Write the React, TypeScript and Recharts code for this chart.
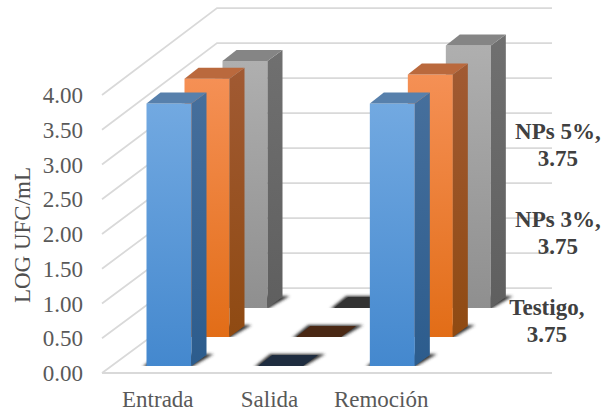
import { Bar, CartesianGrid, ComposedChart, Label, LabelList, XAxis, YAxis } from 'recharts';

const categories = ['Entrada', 'Salida', 'Remoción'];
const testigo = [3.75, 0, 3.75];
const nps3 = [3.69, 0, 3.75];
const nps5 = [3.53, 0, 3.75];
const yTicks = [0, 0.5, 1, 1.5, 2, 2.5, 3, 3.5, 4];

const data = categories.map((name, i) => ({ name, testigo: testigo[i], nps3: nps3[i], nps5: nps5[i] }));

const serif = '"Liberation Serif", "Times New Roman", serif';
const DX = 15;
const DY = 11;

const makeBar = (id: string, topFace: string, flat: string) => (props: any) => {
  const { x, y, width, height } = props;
  const base = y + height;
  const right = x + width;
  return (
    <g>
      <polygon
        points={`${x - 4},${base + 1} ${right},${base + 1} ${right + 22},${base - 12} ${x + 12},${base - 12}`}
        fill="#333"
        filter="url(#baseShadow)"
      />
      {height > 1 && <rect x={x} y={y} width={width} height={height} fill={`url(#${id}Front)`} />}
      {height > 1 && (
        <polygon
          points={`${right},${y} ${right + DX},${y - DY} ${right + DX},${base - DY} ${right},${base}`}
          fill={`url(#${id}Side)`}
        />
      )}
      <polygon
        points={`${x},${y} ${x + DX - 1},${y - DY} ${right + DX},${y - DY} ${right},${y}`}
        fill={height > 1 ? topFace : flat}
      />
    </g>
  );
};

const makeLabel = (title: string, dx: number, dy: number) => (props: any) => {
  const { x, y, index, value } = props;
  if (index !== 2) return null;
  return (
    <text textAnchor="middle" fontFamily={serif} fontSize={23} fontWeight="bold" fill="#404040">
      <tspan x={x + dx} y={y + dy}>{title},</tspan>
      <tspan x={x + dx} y={y + dy + 27}>{Number(value).toFixed(2)}</tspan>
    </text>
  );
};

// back wall + left wall lines, one polyline per tick of the back axis
const wallLine = (props: any) => {
  const { x1, x2, y1, key } = props;
  if (y1 > 300) return <g key={key} />;
  const frontY = 373 - (288 - y1) * 0.993;
  return (
    <polyline
      key={key}
      points={`${x1},${frontY} ${x1 + 115},${y1} ${x2},${y1}`}
      fill="none"
      stroke="#d9d9d9"
      strokeWidth={1.75}
    />
  );
};

const yTitle = ({ viewBox }: any) => {
  const cx = viewBox.x + 30;
  const cy = viewBox.y + 227;
  return (
    <text x={cx} y={cy} transform={`rotate(-90, ${cx}, ${cy})`} textAnchor="middle" fontFamily={serif} fontSize={23} fill="#505050">
      LOG UFC/mL
    </text>
  );
};

const gradient = (id: string, top: string, bottom: string) => (
  <linearGradient id={id} x1="0" y1="0" x2="0" y2="1">
    <stop offset="0%" stopColor={top} />
    <stop offset="100%" stopColor={bottom} />
  </linearGradient>
);

export default function App() {
  return (
    <div style={{ position: 'absolute', left: 0, top: 0, width: 602, height: 413, background: '#fff' }}>
      <ComposedChart
        width={602}
        height={413}
        data={data}
        margin={{ top: 8, right: 50, bottom: 0, left: 0 }}
        style={{ overflow: 'visible' }}
      >
        <defs>
          {gradient('blueFront', '#72A9E1', '#4488CE')}
          {gradient('blueSide', '#466F9C', '#2C5C8D')}
          {gradient('orangeFront', '#F59055', '#E26D17')}
          {gradient('orangeSide', '#A15A33', '#8F4A12')}
          {gradient('greyFront', '#AFAFAF', '#8F8F8F')}
          {gradient('greySide', '#707070', '#5F5F5F')}
          <filter id="baseShadow" x="-30%" y="-60%" width="160%" height="220%">
            <feGaussianBlur stdDeviation="1.6" />
          </filter>
        </defs>

        <CartesianGrid xAxisId="front" yAxisId="back" vertical={false} horizontal={wallLine} syncWithTicks />

        <XAxis
          xAxisId="front"
          dataKey="name"
          height={40}
          padding={{ left: 0, right: 115 }}
          axisLine={{ stroke: '#d9d9d9', strokeWidth: 2 }}
          tickLine={false}
          tickSize={0}
          tickMargin={18}
          tick={{ fontFamily: serif, fontSize: 23, fill: '#595959' }}
        />
        <XAxis xAxisId="blue" dataKey="name" hide height={0} padding={{ left: 11.5, right: 103.5 }} />
        <XAxis xAxisId="orange" dataKey="name" hide height={0} padding={{ left: 49.5, right: 65.5 }} />
        <XAxis xAxisId="grey" dataKey="name" hide height={0} padding={{ left: 87.5, right: 27.5 }} />

        <YAxis
          yAxisId="front"
          width={102}
          domain={[0, 4]}
          allowDataOverflow
          ticks={yTicks}
          interval={0}
          padding={{ top: 87, bottom: 0 }}
          axisLine={false}
          tickLine={false}
          tickSize={0}
          tickMargin={19}
          tickFormatter={(v: number) => v.toFixed(2)}
          tick={{ fontFamily: serif, fontSize: 23, fill: '#595959' }}
        >
          <Label content={yTitle} />
        </YAxis>
        <YAxis yAxisId="back" hide width={0} domain={[0, 4]} allowDataOverflow ticks={yTicks} interval={0} padding={{ top: 0, bottom: 85 }} />
        <YAxis yAxisId="blue" hide width={0} domain={[0, 4]} allowDataOverflow padding={{ top: 78, bottom: 7 }} />
        <YAxis yAxisId="orange" hide width={0} domain={[0, 4]} allowDataOverflow padding={{ top: 49, bottom: 36 }} />
        <YAxis yAxisId="grey" hide width={0} domain={[0, 4]} allowDataOverflow padding={{ top: 20, bottom: 65 }} />

        <Bar
          dataKey="nps5"
          xAxisId="grey"
          yAxisId="grey"
          barSize={45}
          isAnimationActive={false}
          shape={makeBar('grey', '#858585', '#333333')}
        >
          <LabelList dataKey="nps5" content={makeLabel('NPs 5%', 112, 93)} />
        </Bar>
        <Bar
          dataKey="nps3"
          xAxisId="orange"
          yAxisId="orange"
          barSize={45}
          isAnimationActive={false}
          shape={makeBar('orange', '#BA693D', '#4A2814')}
        >
          <LabelList dataKey="nps3" content={makeLabel('NPs 3%', 150, 152)} />
        </Bar>
        <Bar
          dataKey="testigo"
          xAxisId="blue"
          yAxisId="blue"
          barSize={45}
          isAnimationActive={false}
          shape={makeBar('blue', '#5780AC', '#1F2D40')}
        >
          <LabelList dataKey="testigo" content={makeLabel('Testigo', 177, 211)} />
        </Bar>
      </ComposedChart>
    </div>
  );
}
